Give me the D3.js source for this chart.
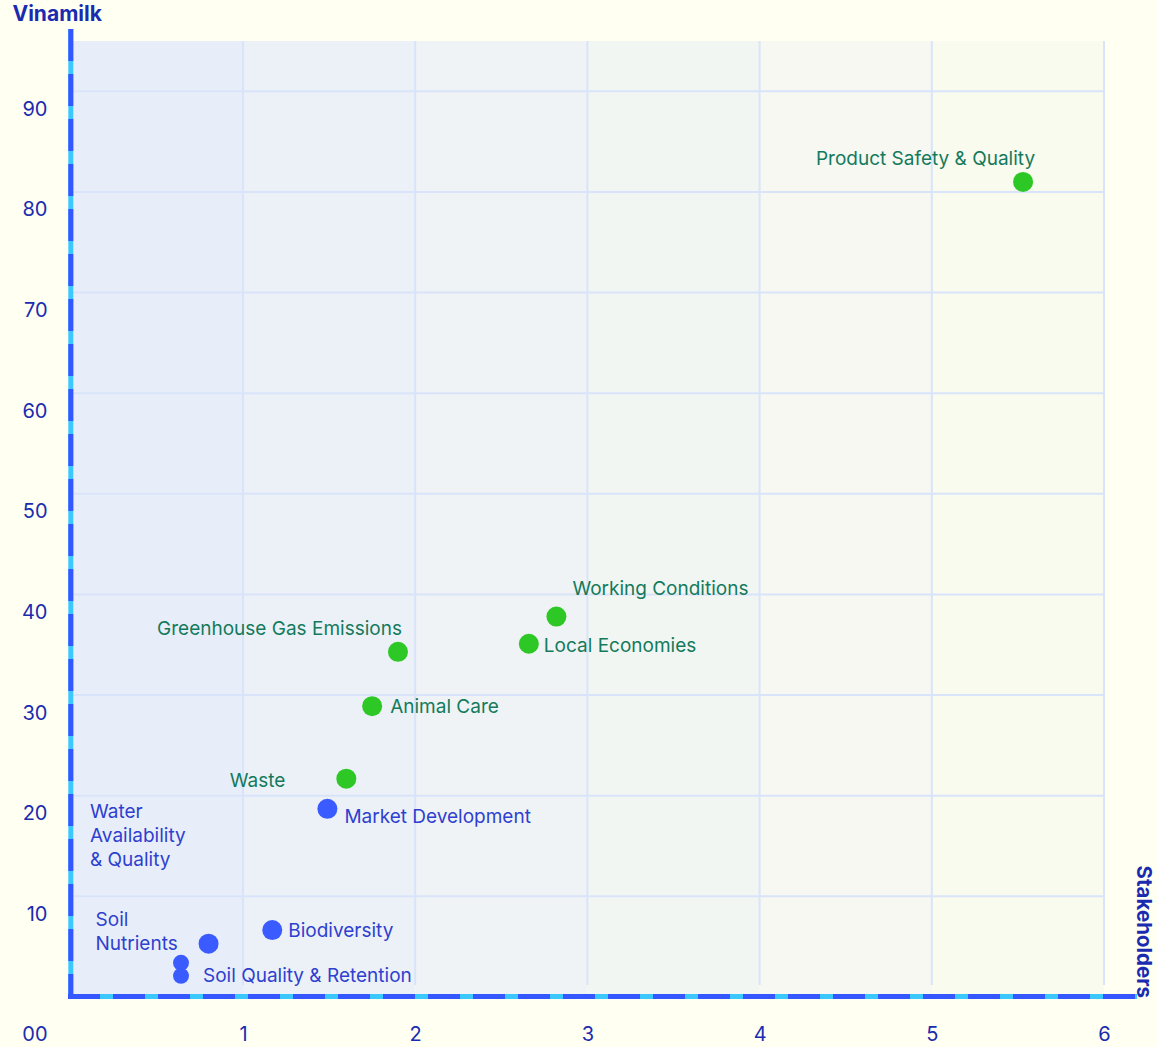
<!DOCTYPE html>
<html>
<head>
<meta charset="utf-8">
<script src="https://cdn.jsdelivr.net/npm/d3@7"></script>
<style>
  html, body { margin: 0; padding: 0; background: #fffff2; }
  svg { display: block; font-family: Inter, "Noto Sans", sans-serif; }
</style>
</head>
<body>
<svg id="chart" width="1157" height="1047"></svg>
<script>
// ---- data ----
const names = [
  "Product Safety & Quality", "Working Conditions", "Local Economies",
  "Greenhouse Gas Emissions", "Animal Care", "Waste", "Market Development",
  "Water Availability & Quality", "Soil Nutrients", "Soil Quality & Retention", "Biodiversity"
];
const stakeholders = [5.53, 2.82, 2.66, 1.90, 1.75, 1.60, 1.49, 0.64, 0.80, 0.64, 1.17];
const vinamilk     = [81.0, 37.8, 35.1, 34.3, 28.9, 21.7, 18.7, 3.4, 5.3, 2.1, 6.65];
const group        = ["g", "g", "g", "g", "g", "g", "b", "b", "b", "b", "b"];
const weight       = [1, 1, 1, 1, 1, 1, 1, 0, 1, 0, 1];
const xTicks = [1, 2, 3, 4, 5, 6];
const yTicks = [10, 20, 30, 40, 50, 60, 70, 80, 90];
const xTickLabels = ["1", "2", "3", "4", "5", "6"];
const yTickLabels = ["10", "20", "30", "40", "50", "60", "70", "80", "90"];
const originLabel = "00";
const xTitle = "Stakeholders";
const yTitle = "Vinamilk";

// ---- label layout (offsets from the dot) ----
const labelLayout = {
  "Product Safety & Quality":   { dx: 12,  dy: -24, anchor: "end",   lines: ["Product Safety & Quality"] },
  "Working Conditions":         { dx: 16,  dy: -28, anchor: "start", lines: ["Working Conditions"] },
  "Local Economies":            { dx: 15,  dy: 2,   anchor: "start", lines: ["Local Economies"] },
  "Greenhouse Gas Emissions":   { dx: 4,   dy: -23, anchor: "end",   lines: ["Greenhouse Gas Emissions"] },
  "Animal Care":                { dx: 18,  dy: 0,   anchor: "start", lines: ["Animal Care"] },
  "Waste":                      { dx: -61, dy: 2,   anchor: "end",   lines: ["Waste"] },
  "Market Development":         { dx: 17,  dy: 8,   anchor: "start", lines: ["Market Development"] },
  "Water Availability & Quality": { dx: -91, dy: -151, anchor: "start", lines: ["Water", "Availability", "& Quality"] },
  "Soil Nutrients":             { dx: -113, dy: -24, anchor: "start", lines: ["Soil", "Nutrients"] },
  "Soil Quality & Retention":   { dx: 22,  dy: -1,  anchor: "start", lines: ["Soil Quality & Retention"] },
  "Biodiversity":               { dx: 16,  dy: 0,   anchor: "start", lines: ["Biodiversity"] }
};

const svg = d3.select("#chart");

const x = d3.scaleLinear().domain([0, 6]).range([70.8, 1104]);
const y = d3.scaleLinear().domain([0, 95]).range([997, 41]);
const r = d3.scaleOrdinal().domain([0, 1]).range([8, 10]);

const dotColor = { g: "#2ec826", b: "#3a5bff" };
const textColor = { g: "#147a5c", b: "#2f3fcf" };
const axisTextColor = "#1a2bb0";

// ---- plot background bands ----
const bandColor = d3.interpolateRgb("#e8eef9", "#f9fbef");
const bandEdges = [0, 1, 2, 3, 4, 5, 6];
svg.append("g").selectAll("rect")
  .data(d3.range(6))
  .join("rect")
  .attr("x", i => i === 0 ? 73 : x(bandEdges[i]))
  .attr("y", 41)
  .attr("width", i => x(bandEdges[i + 1]) - (i === 0 ? 73 : x(bandEdges[i])))
  .attr("height", 994 - 41)
  .attr("fill", i => bandColor(i / 5));

// ---- grid ----
const grid = svg.append("g").attr("stroke", "#d9e4fa").attr("stroke-width", 2);
grid.selectAll("line.h").data(yTicks).join("line")
  .attr("class", "h")
  .attr("x1", 73).attr("x2", x(6))
  .attr("y1", d => y(d)).attr("y2", d => y(d));
grid.selectAll("line.v").data(xTicks).join("line")
  .attr("class", "v")
  .attr("x1", d => x(d)).attr("x2", d => x(d))
  .attr("y1", 41).attr("y2", 985);

// ---- axes (dashed two-tone lines) ----
const axG = svg.append("g");
function twoTone(x1, y1, x2, y2) {
  axG.append("line").attr("x1", x1).attr("y1", y1).attr("x2", x2).attr("y2", y2)
    .attr("stroke", "#3ac8ff").attr("stroke-width", 5);
  axG.append("line").attr("x1", x1).attr("y1", y1).attr("x2", x2).attr("y2", y2)
    .attr("stroke", "#3557ff").attr("stroke-width", 5).attr("stroke-dasharray", "32,13");
}
twoTone(x(0), 29, x(0), 999);
twoTone(68, 996.5, 1137, 996.5);

// ---- tick labels via d3 axes ----
const xAxis = d3.axisBottom(x).tickValues(xTicks).tickSize(0)
  .tickFormat((d, i) => xTickLabels[i]);
const xAxisG = svg.append("g").attr("transform", "translate(0,1034)").call(xAxis);
xAxisG.select(".domain").remove();
xAxisG.selectAll("text")
  .attr("y", 0).attr("dy", "0.35em")
  .attr("fill", axisTextColor).attr("font-size", 20).attr("font-family", "Inter");

const yAxis = d3.axisLeft(y).tickValues(yTicks).tickSize(0)
  .tickFormat((d, i) => yTickLabels[i]);
const yAxisG = svg.append("g").attr("transform", "translate(47.5,17)").call(yAxis);
yAxisG.select(".domain").remove();
yAxisG.selectAll("text")
  .attr("x", 0).attr("dy", "0.35em")
  .attr("fill", axisTextColor).attr("font-size", 20).attr("font-family", "Inter");

svg.append("text")
  .attr("x", 47.5).attr("y", 1034).attr("dy", "0.35em")
  .attr("text-anchor", "end")
  .attr("fill", axisTextColor).attr("font-size", 20)
  .text(originLabel);

// ---- axis titles ----
svg.append("text")
  .attr("x", 12.5).attr("y", 21)
  .attr("fill", "#1a2bb0").attr("font-weight", 700).attr("font-size", 21)
  .text(yTitle);
svg.append("text")
  .attr("transform", "translate(1137,998) rotate(90)")
  .attr("text-anchor", "end")
  .attr("fill", "#1a2bb0").attr("font-weight", 700).attr("font-size", 20.5)
  .text(xTitle);

// ---- points ----
const pts = names.map((n, i) => ({
  name: n, sx: stakeholders[i], vy: vinamilk[i], g: group[i], w: weight[i]
}));

svg.append("g").selectAll("circle")
  .data(pts)
  .join("circle")
  .attr("cx", d => x(d.sx))
  .attr("cy", d => y(d.vy))
  .attr("r", d => r(d.w))
  .attr("fill", d => dotColor[d.g]);

// ---- labels ----
const lg = svg.append("g").attr("font-size", 19);
pts.forEach(d => {
  const L = labelLayout[d.name];
  const t = lg.append("text")
    .attr("x", x(d.sx) + L.dx)
    .attr("y", y(d.vy) + L.dy)
    .attr("text-anchor", L.anchor)
    .attr("fill", textColor[d.g]);
  L.lines.forEach((line, k) => {
    t.append("tspan")
      .attr("x", x(d.sx) + L.dx)
      .attr("y", y(d.vy) + L.dy + k * 24)
      .attr("dy", "0.35em")
      .text(line);
  });
});
</script>
</body>
</html>
